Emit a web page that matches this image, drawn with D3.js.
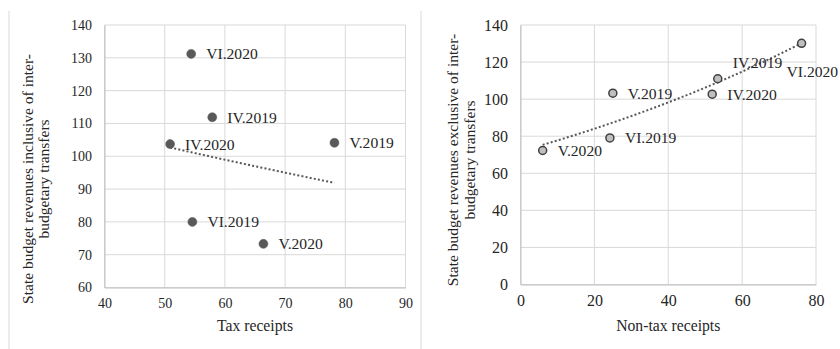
<!DOCTYPE html>
<html>
<head>
<meta charset="utf-8">
<script src="https://cdn.jsdelivr.net/npm/d3@7"></script>
<style>
  html, body { margin: 0; padding: 0; background: #fff; }
  svg { display: block; }
  text { font-family: "Liberation Serif", "Times New Roman", serif; fill: #262626; }
</style>
</head>
<body>
<svg id="chart" width="840" height="349"></svg>
<script>
// Monthly observations (period labels shared by both panels)
const periods = ["IV.2019", "V.2019", "VI.2019", "IV.2020", "V.2020", "VI.2020"];

// Left panel: tax receipts vs revenues inclusive of inter-budgetary transfers
const taxReceipts = [57.9, 78.2, 54.6, 50.9, 66.4, 54.4];
const revenuesInclTransfers = [111.9, 104.1, 80.0, 103.7, 73.3, 131.2];

// Right panel: non-tax receipts vs revenues exclusive of inter-budgetary transfers
const nonTaxReceipts = [53.4, 25.0, 24.2, 51.9, 6.0, 76.1];
const revenuesExclTransfers = [111.0, 103.2, 79.1, 102.7, 72.3, 130.1];

// Axis ticks
const leftXTicks = [40, 50, 60, 70, 80, 90];
const leftYTicks = [60, 70, 80, 90, 100, 110, 120, 130, 140];
const rightXTicks = [0, 20, 40, 60, 80];
const rightYTicks = [0, 20, 40, 60, 80, 100, 120, 140];

const svg = d3.select("#chart");

// Exponential least-squares fit y = a * e^(b x), fitted on ln(y)
function expFit(xs, ys) {
  const n = xs.length;
  const ly = ys.map(Math.log);
  const mx = d3.mean(xs), my = d3.mean(ly);
  let sxy = 0, sxx = 0;
  for (let i = 0; i < n; i++) {
    sxy += (xs[i] - mx) * (ly[i] - my);
    sxx += (xs[i] - mx) ** 2;
  }
  const b = sxy / sxx;
  const a = Math.exp(my - b * mx);
  return x => a * Math.exp(b * x);
}

function panel(cfg) {
  const g = svg.append("g");
  const x = d3.scaleLinear().domain(d3.extent(cfg.xTicks)).range([cfg.left, cfg.right]);
  const y = d3.scaleLinear().domain(d3.extent(cfg.yTicks)).range([cfg.bottom, cfg.top]);

  // gridlines
  g.append("g").selectAll("line.h").data(cfg.yTicks).join("line")
    .attr("x1", cfg.left).attr("x2", cfg.right)
    .attr("y1", d => y(d)).attr("y2", d => y(d))
    .attr("stroke", "#d9d9d9").attr("stroke-width", 1);
  g.append("g").selectAll("line.v").data(cfg.xTicks).join("line")
    .attr("y1", cfg.top).attr("y2", cfg.bottom)
    .attr("x1", d => x(d)).attr("x2", d => x(d))
    .attr("stroke", "#d9d9d9").attr("stroke-width", 1);

  // axes (labels only, lines come from the grid)
  const xAxis = g.append("g").attr("transform", `translate(0,${cfg.bottom})`)
    .call(d3.axisBottom(x).tickValues(cfg.xTicks).tickSize(0).tickPadding(cfg.xPad));
  const yAxis = g.append("g").attr("transform", `translate(${cfg.left},0)`)
    .call(d3.axisLeft(y).tickValues(cfg.yTicks).tickSize(0).tickPadding(12.5));
  [xAxis, yAxis].forEach(a => {
    a.select(".domain").attr("stroke", "#bfbfbf");
    a.selectAll("text").style("font-family", "Liberation Serif").style("font-size", cfg.tickSize).attr("fill", "#262626");
  });

  // exponential trendline
  const fit = expFit(cfg.xs, cfg.ys);
  const [x0, x1] = d3.extent(cfg.xs);
  const samples = d3.range(0, 61).map(i => x0 + (x1 - x0) * i / 60);
  g.append("path")
    .datum(samples)
    .attr("d", d3.line().x(d => x(d)).y(d => y(fit(d))))
    .attr("fill", "none").attr("stroke", "#595959")
    .attr("stroke-width", 2).attr("stroke-dasharray", "2,2.2");

  // points
  const pts = cfg.xs.map((v, i) => ({ x: v, y: cfg.ys[i], label: periods[i] }));
  g.append("g").selectAll("circle").data(pts).join("circle")
    .attr("cx", d => x(d.x)).attr("cy", d => y(d.y))
    .attr("r", cfg.r)
    .attr("fill", cfg.fill).attr("stroke", cfg.stroke).attr("stroke-width", cfg.strokeWidth);

  // data labels
  g.append("g").selectAll("text").data(pts).join("text")
    .attr("x", d => x(d.x) + (cfg.labelOffsets[d.label] || [15, 0])[0])
    .attr("y", d => y(d.y) + (cfg.labelOffsets[d.label] || [15, 0])[1])
    .attr("dy", "0.35em")
    .style("font-size", "15.6px")
    .text(d => d.label);

  // axis titles
  g.append("text")
    .attr("x", (cfg.left + cfg.right) / 2).attr("y", cfg.xTitleY)
    .attr("text-anchor", "middle").attr("dy", "0.35em")
    .style("font-size", "15.7px")
    .text(cfg.xTitle);
  cfg.yTitle.forEach((line, i) => {
    g.append("text")
      .attr("transform", `translate(${cfg.yTitleX[i]},${cfg.yTitleY}) rotate(-90)`)
      .attr("text-anchor", "middle").attr("dy", "0.35em")
      .style("font-size", "15.5px")
      .text(line);
  });
}

// panel borders
svg.append("g").selectAll("line").data([9, 421]).join("line")
  .attr("x1", d => d).attr("x2", d => d).attr("y1", 11).attr("y2", 349)
  .attr("stroke", "#d9d9d9").attr("stroke-width", 1);

panel({
  xs: taxReceipts, ys: revenuesInclTransfers,
  xTicks: leftXTicks, yTicks: leftYTicks,
  left: 104.5, right: 405.5, top: 25, bottom: 287.5,
  tickSize: "14px", xPad: 11,
  r: 4.5, fill: "#595959", stroke: "#595959", strokeWidth: 0.5,
  labelOffsets: {},
  xTitle: "Tax receipts", xTitleY: 326,
  yTitle: ["State budget revenues inclusive of inter-", "budgetary transfers"],
  yTitleX: [27.5, 43.5], yTitleY: 179
});

panel({
  xs: nonTaxReceipts, ys: revenuesExclTransfers,
  xTicks: rightXTicks, yTicks: rightYTicks,
  left: 520.5, right: 816, top: 25, bottom: 284.5,
  tickSize: "16px", xPad: 10,
  r: 4, fill: "#bfbfbf", stroke: "#404040", strokeWidth: 1.5,
  labelOffsets: { "IV.2019": [15, -16], "VI.2020": [-15, 28] },
  xTitle: "Non-tax receipts", xTitleY: 326,
  yTitle: ["State budget revenues exclusive of inter-", "budgetary transfers"],
  yTitleX: [452.5, 470], yTitleY: 160
});
</script>
</body>
</html>
